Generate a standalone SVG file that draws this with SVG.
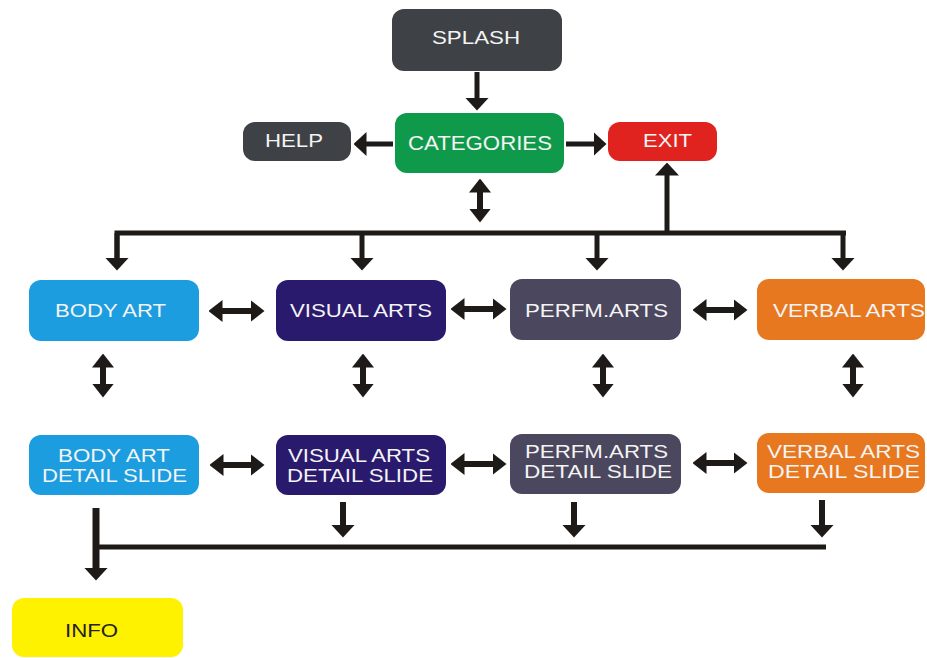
<svg xmlns="http://www.w3.org/2000/svg" width="927" height="658" viewBox="0 0 927 658">
<defs>
<marker id="ah" viewBox="0 0 13 24" markerUnits="userSpaceOnUse" markerWidth="13" markerHeight="24" refX="0.5" refY="12" orient="auto-start-reverse">
<path d="M0,0 L13,12 L0,24 Z" fill="#1e1a18"/>
</marker>
<marker id="ah2" viewBox="0 0 14 22" markerUnits="userSpaceOnUse" markerWidth="14" markerHeight="22" refX="0.5" refY="11" orient="auto-start-reverse">
<path d="M0,0 L14,11 L0,22 Z" fill="#1e1a18"/>
</marker>
<style>
.box{rx:12px;ry:12px}
.t{font-family:"Liberation Sans",Arial,sans-serif;font-size:19px;fill:#f4f4f4;text-anchor:middle}
.c{stroke:#1e1a18;fill:none;stroke-width:5}
.a{marker-end:url(#ah)}
.d{marker-start:url(#ah2);marker-end:url(#ah2);stroke-width:6}
</style>
</defs>
<rect width="927" height="658" fill="#ffffff"/>

<g id="connectors">
<line class="c a" x1="477" y1="72" x2="477" y2="98"/>
<line class="c a" x1="393" y1="144" x2="366" y2="144"/>
<line class="c a" x1="566" y1="144" x2="594" y2="144"/>
<line class="c d" x1="480" y1="192" x2="480" y2="209"/>
<polyline class="c" points="117,258 117,233 846,233"/>
<line class="c a" x1="117" y1="233" x2="117" y2="258"/>
<line class="c a" x1="362" y1="233" x2="362" y2="258"/>
<line class="c a" x1="597" y1="233" x2="597" y2="258"/>
<line class="c a" x1="843" y1="231" x2="843" y2="258"/>
<line class="c a" x1="667" y1="235" x2="667" y2="175"/>

<line class="c d" x1="222" y1="311" x2="251" y2="311"/>
<line class="c d" x1="464" y1="309" x2="493" y2="309"/>
<line class="c d" x1="706" y1="310" x2="734" y2="310"/>

<line class="c d" x1="103" y1="367" x2="103" y2="384"/>
<line class="c d" x1="363" y1="367" x2="363" y2="384"/>
<line class="c d" x1="603" y1="367" x2="603" y2="384"/>
<line class="c d" x1="853" y1="367" x2="853" y2="384"/>

<line class="c d" x1="223" y1="465" x2="251" y2="465"/>
<line class="c d" x1="464" y1="464" x2="493" y2="464"/>
<line class="c d" x1="706" y1="463" x2="734" y2="463"/>

<line class="c a" x1="96" y1="508" x2="96" y2="568" style="stroke-width:7"/>
<line class="c" x1="96" y1="547" x2="826" y2="547"/>
<line class="c a" x1="343" y1="502" x2="343" y2="525" style="stroke-width:6"/>
<line class="c a" x1="574" y1="502" x2="574" y2="525" style="stroke-width:6"/>
<line class="c a" x1="822" y1="500" x2="822" y2="525" style="stroke-width:6"/>
</g>

<g id="splash"><rect class="box" x="392" y="9" width="170" height="62" fill="#3e4246"/><text class="t" x="476" y="44" textLength="88" lengthAdjust="spacingAndGlyphs">SPLASH</text></g>
<g id="help"><rect class="box" x="243" y="122" width="108" height="39" fill="#3e4246"/><text class="t" x="294" y="147" textLength="58" lengthAdjust="spacingAndGlyphs">HELP</text></g>
<g id="categories"><rect class="box" x="395" y="113" width="169" height="60" fill="#0f9a4b"/><text class="t" x="480" y="150" textLength="144" lengthAdjust="spacingAndGlyphs" style="font-size:21px">CATEGORIES</text></g>
<g id="exit"><rect class="box" x="608" y="122" width="109" height="39" fill="#e1231f"/><text class="t" x="667.5" y="147" textLength="49" lengthAdjust="spacingAndGlyphs">EXIT</text></g>

<g id="body-art"><rect class="box" x="29" y="280" width="170" height="61" fill="#1b9de0"/><text class="t" x="110.5" y="317" textLength="111" lengthAdjust="spacingAndGlyphs">BODY ART</text></g>
<g id="visual-arts"><rect class="box" x="276" y="280" width="170" height="61" fill="#2a1a6e"/><text class="t" x="361" y="317" textLength="142" lengthAdjust="spacingAndGlyphs">VISUAL ARTS</text></g>
<g id="perfm-arts"><rect class="box" x="510" y="279" width="171" height="61" fill="#4b475e"/><text class="t" x="596.5" y="317" textLength="143" lengthAdjust="spacingAndGlyphs">PERFM.ARTS</text></g>
<g id="verbal-arts"><rect class="box" x="757" y="279" width="168" height="61" fill="#e8781f"/><text class="t" x="849" y="317" textLength="152" lengthAdjust="spacingAndGlyphs">VERBAL ARTS</text></g>

<g id="body-art-detail"><rect class="box" x="29" y="435" width="170" height="60" fill="#1b9de0"/><text class="t" x="114" y="462" textLength="112" lengthAdjust="spacingAndGlyphs">BODY ART</text><text class="t" x="114.5" y="482" textLength="145" lengthAdjust="spacingAndGlyphs">DETAIL SLIDE</text></g>
<g id="visual-arts-detail"><rect class="box" x="276" y="435" width="170" height="60" fill="#2a1a6e"/><text class="t" x="359" y="462" textLength="142" lengthAdjust="spacingAndGlyphs">VISUAL ARTS</text><text class="t" x="360" y="482" textLength="146" lengthAdjust="spacingAndGlyphs">DETAIL SLIDE</text></g>
<g id="perfm-arts-detail"><rect class="box" x="510" y="434" width="171" height="60" fill="#4b475e"/><text class="t" x="596.5" y="458" textLength="143" lengthAdjust="spacingAndGlyphs">PERFM.ARTS</text><text class="t" x="598" y="478" textLength="148" lengthAdjust="spacingAndGlyphs">DETAIL SLIDE</text></g>
<g id="verbal-arts-detail"><rect class="box" x="757" y="433" width="168" height="60" fill="#e8781f"/><text class="t" x="843.5" y="458" textLength="153" lengthAdjust="spacingAndGlyphs">VERBAL ARTS</text><text class="t" x="844" y="478" textLength="152" lengthAdjust="spacingAndGlyphs">DETAIL SLIDE</text></g>

<g id="info"><rect class="box" x="12" y="598" width="171" height="59" fill="#fff200"/><text class="t" x="91.5" y="637" textLength="53" lengthAdjust="spacingAndGlyphs" style="fill:#222222">INFO</text></g>
</svg>
